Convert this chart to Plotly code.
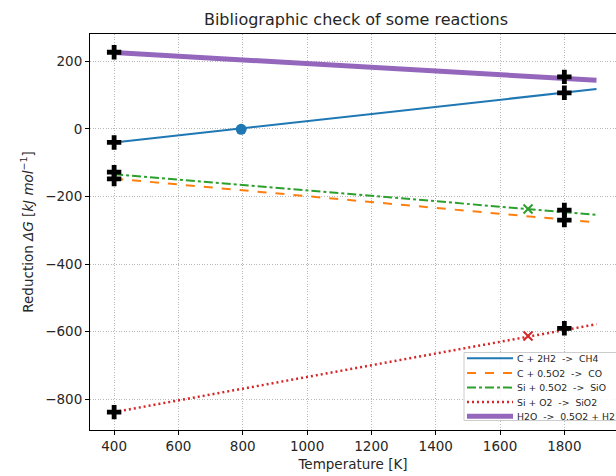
import plotly.graph_objects as go

# ---- data ----
T_line = [400, 1900]
names = ["C + 2H2 \u00a0->\u00a0 CH4", "C + 0.5O2 \u00a0->\u00a0 CO", "Si + 0.5O2 \u00a0->\u00a0 SiO",
         "Si + O2 \u00a0->\u00a0 SiO2", "H2O \u00a0->\u00a0 0.5O2 + H2"]
dG_CH4 = [-40, 118]
dG_CO = [-147, -277]
dG_SiO = [-134, -254]
dG_SiO2 = [-838, -578]
dG_H2O = [226, 144]

# bibliographic check points
ref_T = [400, 400, 400, 400, 400, 1800, 1800, 1800, 1800, 1800]
ref_G = [227, -40, -128, -148, -838, 154, 107, -240, -270, -590]
ch4_pt_T = [795]
ch4_pt_G = [-1]
si_melt_T = [1687]
si_melt_SiO = [-237]
si_melt_SiO2 = [-613]

colors = ["#1f77b4", "#ff7f0e", "#2ca02c", "#d62728", "#9467bd"]
dashes = ["solid", "dash", "dashdot", "2px,3px", "solid"]
widths = [2, 2, 2, 2.5, 5]
series = [dG_CH4, dG_CO, dG_SiO, dG_SiO2, dG_H2O]

fig = go.Figure()
for n, s, c, d, w in zip(names, series, colors, dashes, widths):
    fig.add_trace(go.Scatter(x=T_line, y=s, mode="lines", name=n, showlegend=False,
                             line=dict(color=c, dash=d, width=w)))

fig.add_trace(go.Scatter(x=ch4_pt_T, y=ch4_pt_G, mode="markers", showlegend=False,
                         marker=dict(color=colors[0], size=11, symbol="circle")))
fig.add_trace(go.Scatter(x=si_melt_T, y=si_melt_SiO, mode="markers", showlegend=False,
                         marker=dict(color=colors[2], size=9, symbol="x-thin-open",
                                     line=dict(color=colors[2], width=2))))
fig.add_trace(go.Scatter(x=si_melt_T, y=si_melt_SiO2, mode="markers", showlegend=False,
                         marker=dict(color=colors[3], size=9, symbol="x-thin-open",
                                     line=dict(color=colors[3], width=2))))
fig.add_trace(go.Scatter(x=ref_T, y=ref_G, mode="markers", showlegend=False,
                         marker=dict(color="black", size=12, symbol="cross")))

font = "DejaVu Sans, sans-serif"
fig.update_layout(
    width=616, height=476,
    margin=dict(l=90, r=0, t=34, b=46),
    paper_bgcolor="white", plot_bgcolor="white",
    font=dict(family=font, size=13, color="#262626"),
    title=dict(text="Bibliographic check of some reactions", x=356/616, xanchor="center",
               y=1 - 19/476, yanchor="middle", font=dict(size=16, color="#262626")),
    showlegend=False,
)

# ---- compact legend (lower right, matplotlib-like spacing) ----
px_w, px_h = 526.0, 396.0   # plot area size in pixels
def px_x(p):
    return (p - 90) / px_w
def px_y(p):
    return (430 - p) / px_h

fig.add_shape(type="rect", xref="paper", yref="paper",
              x0=px_x(464), x1=px_x(625), y0=px_y(420.5), y1=px_y(352.5),
              line=dict(color="#cccccc", width=1), fillcolor="rgba(255,255,255,0.85)",
              layer="above")
row_y = [358.3, 373.0, 387.6, 402.0, 416.3]
for i, (n, c, d, w) in enumerate(zip(names, colors, dashes, widths)):
    yy = px_y(row_y[i])
    fig.add_shape(type="line", xref="paper", yref="paper",
                  x0=px_x(467), x1=px_x(513), y0=yy, y1=yy,
                  line=dict(color=c, dash=d, width=w), layer="above")
    fig.add_annotation(xref="paper", yref="paper", x=px_x(517), y=yy,
                       xanchor="left", yanchor="middle", text=n, showarrow=False,
                       borderpad=0, borderwidth=0,
                       font=dict(size=9.3, color="#262626"))

grid = dict(showgrid=True, gridcolor="#b8b8b8", griddash="1px,1.6px", gridwidth=0.8)
fig.update_xaxes(range=[325, 1960.6], tickvals=[400, 600, 800, 1000, 1200, 1400, 1600, 1800],
                 showline=True, linecolor="black", linewidth=1, mirror=True,
                 ticks="outside", ticklen=4, tickcolor="black",
                 zeroline=False, **grid,
                 title=dict(text="Temperature [K]", standoff=6, font=dict(size=13.5)),
                 tickfont=dict(size=13.5))
fig.update_yaxes(range=[-891, 281], tickvals=[200, 0, -200, -400, -600, -800],
                 ticktext=["200", "0", "\u2212200", "\u2212400", "\u2212600", "\u2212800"],
                 showline=True, linecolor="black", linewidth=1, mirror=False,
                 ticks="outside", ticklen=4, tickcolor="black",
                 zeroline=False, **grid,
                 title=dict(text="Reduction <i>\u0394G</i> [<i>kJ mol</i><sup>\u22121</sup>]",
                            standoff=8, font=dict(size=13.5)),
                 tickfont=dict(size=13.5))

fig.write_html("out.html")
